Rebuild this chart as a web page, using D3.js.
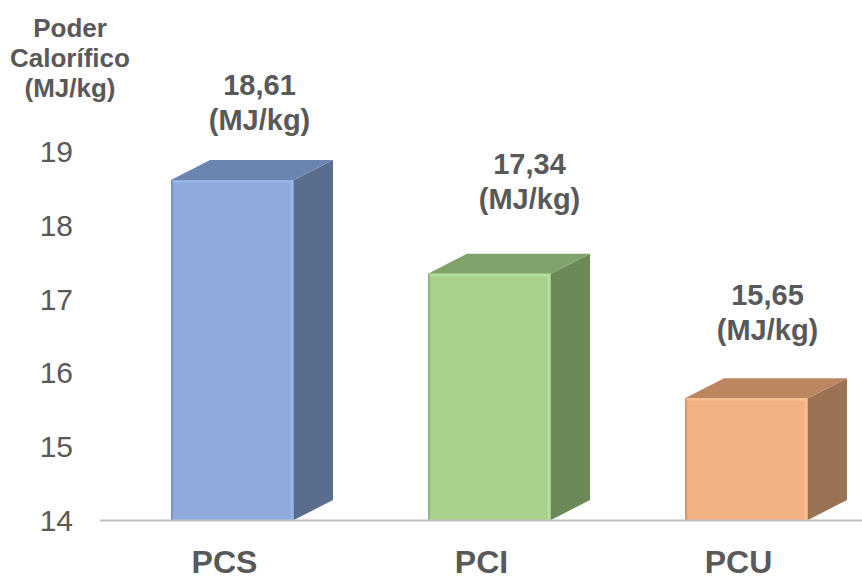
<!DOCTYPE html>
<html>
<head>
<meta charset="utf-8">
<script src="https://cdn.jsdelivr.net/npm/d3@7"></script>
<style>
  html, body { margin: 0; padding: 0; background: #fff; }
  svg { display: block; font-family: "Liberation Sans", Arial, sans-serif; }
</style>
</head>
<body>
<svg id="chart" width="862" height="581"></svg>
<script>
// Poder calorífico values (MJ/kg)
const categories = ["PCS", "PCI", "PCU"];
const values = [18.61, 17.34, 15.65];
const valueLabels = ["18,61", "17,34", "15,65"];
const unitLabel = "(MJ/kg)";
const yTicks = [14, 15, 16, 17, 18, 19];
const titleLines = ["Poder", "Calorífico", "(MJ/kg)"];

// Face colours per bar: front, top, side
const frontColors = ["#8EAADC", "#A9D18E", "#F4B183"];
const topColors = ["#6C84B0", "#80A26B", "#BC8661"];
const sideColors = ["#5B6D8F", "#6B8A57", "#9C7352"];

// Manual nudges for the value labels (pixels, relative to the bar front centre / top)
const labelDx = [27, 40, 21];
const labelDy = [-85, -100, -93];

const textColor = "#595959";
const svg = d3.select("#chart");

const y = d3.scaleLinear().domain([14, 19]).range([520, 151.25]);
const x = d3.scaleBand().domain(categories).range([171, 808]).paddingInner(0.5214).paddingOuter(0);
const bw = x.bandwidth();
const depthX = 39, depthY = -20;

// Gradients for a soft bevel on the front faces
const defs = svg.append("defs");
categories.forEach((c, i) => {
  const base = d3.color(frontColors[i]);
  const g = defs.append("linearGradient").attr("id", "fg" + i)
    .attr("x1", "0").attr("x2", "1").attr("y1", "0").attr("y2", "0");
  g.append("stop").attr("offset", "0").attr("stop-color", base.darker(0.6));
  g.append("stop").attr("offset", "0.025").attr("stop-color", base);
  g.append("stop").attr("offset", "0.965").attr("stop-color", base);
  g.append("stop").attr("offset", "0.985").attr("stop-color", base.brighter(0.25));
  g.append("stop").attr("offset", "1").attr("stop-color", base.darker(0.3));
});

// Y tick labels (no axis line)
svg.append("g").selectAll("text").data(yTicks).join("text")
  .attr("x", 73).attr("y", d => y(d))
  .attr("dy", "0.36em")
  .attr("text-anchor", "end")
  .attr("font-size", 30)
  .attr("fill", textColor)
  .text(d => d);

// Axis title
svg.append("g").selectAll("text").data(titleLines).join("text")
  .attr("x", 70).attr("y", (d, i) => 37 + i * 30)
  .attr("text-anchor", "middle")
  .attr("font-size", 26).attr("font-weight", "bold")
  .attr("fill", textColor)
  .text(d => d);

// 3D bars
const bars = svg.append("g").selectAll("g").data(categories).join("g");
const y0 = y(14);

bars.append("polygon")
  .attr("fill", (d, i) => sideColors[i])
  .attr("points", (d, i) => {
    const x1 = x(d) + bw, yt = y(values[i]);
    return [[x1, y0], [x1 + depthX, y0 + depthY], [x1 + depthX, yt + depthY], [x1, yt]].join(" ");
  });

bars.append("polygon")
  .attr("fill", (d, i) => topColors[i])
  .attr("points", (d, i) => {
    const x0 = x(d), x1 = x(d) + bw, yt = y(values[i]);
    return [[x0, yt], [x0 + depthX, yt + depthY], [x1 + depthX, yt + depthY], [x1, yt]].join(" ");
  });

bars.append("rect")
  .attr("x", d => x(d))
  .attr("y", (d, i) => y(values[i]))
  .attr("width", bw)
  .attr("height", (d, i) => y0 - y(values[i]))
  .attr("fill", (d, i) => `url(#fg${i})`);

// Soft highlight along the top edge of the front face
bars.append("line")
  .attr("x1", d => x(d) + 2).attr("x2", d => x(d) + bw - 2)
  .attr("y1", (d, i) => y(values[i]) + 1.5).attr("y2", (d, i) => y(values[i]) + 1.5)
  .attr("stroke", (d, i) => d3.color(frontColors[i]).brighter(0.3))
  .attr("stroke-width", 2).attr("opacity", 0.7);

// Baseline
svg.append("line")
  .attr("x1", 100).attr("x2", 862)
  .attr("y1", y0 + 0.5).attr("y2", y0 + 0.5)
  .attr("stroke", "#BFBFBF").attr("stroke-width", 2);

// Value labels
const vl = svg.append("g").selectAll("text").data(categories).join("text")
  .attr("text-anchor", "middle")
  .attr("font-size", 29).attr("font-weight", "bold")
  .attr("fill", textColor)
  .attr("transform", (d, i) => `translate(${x(d) + bw / 2 + labelDx[i]},${y(values[i]) + labelDy[i]})`);
vl.append("tspan").attr("x", 0).attr("y", 0).text((d, i) => valueLabels[i]);
vl.append("tspan").attr("x", 0).attr("y", 35).text(unitLabel);

// Category labels
svg.append("g").selectAll("text").data(categories).join("text")
  .attr("x", d => x(d) + bw / 2 - 8)
  .attr("y", 573)
  .attr("text-anchor", "middle")
  .attr("font-size", 32).attr("font-weight", "bold")
  .attr("fill", textColor)
  .text(d => d);
</script>
</body>
</html>
